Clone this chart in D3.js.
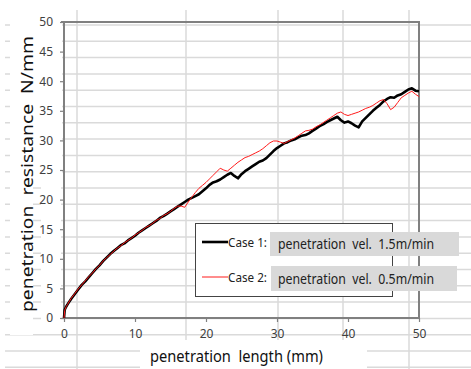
<!DOCTYPE html>
<html><head><meta charset="utf-8">
<script src="https://cdn.jsdelivr.net/npm/d3@7"></script>
<style>body{margin:0;background:#fff}svg{display:block}text{white-space:pre}</style>
</head><body><svg id="c" width="471" height="369"></svg>
<script>
const lengths=[0,0.1,0.3,0.5,1,1.5,2,2.5,3,3.5,4,4.5,5,5.5,6,6.5,7,7.5,8,8.5,9,9.5,10,10.5,11,11.5,12,12.5,13,13.5,14,14.5,15,15.5,16,16.5,17,17.5,18,18.5,19,19.5,20,20.5,21,21.5,22,22.5,23,23.5,24,24.5,25,25.5,26,26.5,27,27.5,28,28.5,29,29.5,30,30.5,31,31.5,32,32.5,33,33.5,34,34.5,35,35.5,36,36.5,37,37.5,38,38.5,39,39.5,40,40.5,41,41.5,42,42.5,43,43.5,44,44.5,45,45.5,46,46.5,47,47.5,48,48.5,49,49.5,50];
const case1=[0,1.4,1.9,2.3,3.2,4.0,4.8,5.6,6.2,6.9,7.6,8.3,8.9,9.6,10.2,10.8,11.3,11.8,12.3,12.6,13.1,13.5,13.9,14.4,14.8,15.2,15.6,16.0,16.4,16.9,17.2,17.6,18.0,18.4,18.8,19.2,19.6,20.0,20.3,20.6,20.9,21.4,21.9,22.5,22.9,23.1,23.4,23.8,24.2,24.5,24.0,23.6,24.3,24.8,25.2,25.6,26.0,26.4,26.6,27.0,27.6,28.2,28.7,29.1,29.5,29.7,30.0,30.2,30.5,30.8,30.9,31.2,31.6,32.0,32.4,32.7,33.1,33.4,33.7,34.0,33.4,33.0,33.2,32.9,32.5,32.2,33.2,33.8,34.4,35.0,35.5,36.0,36.6,37.0,37.3,37.2,37.6,37.8,38.2,38.6,38.8,38.4,38.3];
const case2=[0,1.3,1.9,2.3,3.3,4.1,4.9,5.6,6.3,7.0,7.6,8.3,8.9,9.6,10.2,10.7,11.3,11.8,12.2,12.7,13.1,13.5,14.0,14.4,14.8,15.3,15.6,16.0,16.5,16.8,17.3,17.6,18.0,18.5,18.9,18.9,18.7,19.6,20.4,21.2,21.9,22.4,22.9,23.5,24.1,24.7,25.3,25.0,24.8,25.3,25.8,26.3,26.7,27.1,27.3,27.6,27.9,28.2,28.6,29.1,29.6,29.9,29.9,29.7,29.5,29.8,30.1,30.4,30.8,31.2,31.6,31.7,31.9,32.3,32.6,33.0,33.4,33.8,34.2,34.6,34.8,34.4,34.2,34.4,34.6,34.8,35.1,35.4,35.6,35.9,36.3,36.7,36.9,36.2,35.2,35.6,36.4,37.2,37.6,38.0,38.3,37.8,37.4];
const xTicks=[0,10,20,30,40,50];
const yTicks=[0,5,10,15,20,25,30,35,40,45,50];
const seriesNames=["Case 1:","Case 2:"];
const seriesDesc=["penetration  vel.  1.5m/min","penetration  vel.  0.5m/min"];
const xTitle="penetration  length (mm)";
const yTitle="penetration  resistance  N/mm";

const svg=d3.select("#c");
const W=471,H=369;
const L=64,R=419,T=22,B=318;
const x=d3.scaleLinear().domain([0,50]).range([L,R]);
const y=d3.scaleLinear().domain([0,50]).range([B,T]);
const FONT="'Noto Sans', 'DejaVu Sans', sans-serif";

// spreadsheet background grid
const grid=svg.append("g");
for(let gy=25;gy<H;gy+=16.3){
  grid.append("line").attr("x1",5).attr("x2",W).attr("y1",gy).attr("y2",gy)
    .attr("stroke","#dadada").attr("stroke-width",1.5);
}
[77,186,278,343,409].forEach(gx=>{
  grid.append("line").attr("x1",gx).attr("x2",gx).attr("y1",10).attr("y2",H)
    .attr("stroke","#dadada").attr("stroke-width",1.5);
});
// white areas of the chart object
svg.append("rect").attr("x",10).attr("y",12).attr("width",52).attr("height",168).attr("fill","#fff");
svg.append("rect").attr("x",10).attr("y",12).attr("width",23).attr("height",323).attr("fill","#fff");
svg.append("rect").attr("x",41).attr("y",12).attr("width",20).attr("height",314).attr("fill","#fff");
svg.append("rect").attr("x",140).attr("y",340).attr("width",227).attr("height",29).attr("fill","#fff");

// plot frame (top & right)
svg.append("path").attr("d",`M${L-3},${T}H${R}V${B}`).attr("fill","none")
  .attr("stroke","#808080").attr("stroke-width",2);

// axes
const yAxis=svg.append("g").attr("transform",`translate(${L},0)`)
  .call(d3.axisLeft(y).tickValues(yTicks).tickSize(4).tickPadding(7).tickFormat(d3.format("d")));
const xAxis=svg.append("g").attr("transform",`translate(0,${B})`)
  .call(d3.axisBottom(x).tickValues(xTicks).tickSize(4).tickPadding(7).tickFormat(d3.format("d")));
[yAxis,xAxis].forEach(a=>{
  a.select(".domain").attr("stroke","#808080").attr("stroke-width",2);
  a.selectAll(".tick line").attr("stroke","#808080").attr("stroke-width",1.2);
  a.selectAll(".tick text").attr("fill","#404040").style("font-family",FONT).style("font-size","12px");
});
yAxis.select(".domain").attr("d",`M0,${T}V${B}`);
xAxis.select(".domain").attr("d",`M${L},0H${R}`);

// series
const line=d3.line().x((d,i)=>x(lengths[i])).y(d=>y(d));
svg.append("path").datum(case1).attr("d",line).attr("fill","none")
  .attr("stroke","#000").attr("stroke-width",2.6).attr("stroke-linejoin","round");
svg.append("path").datum(case2).attr("d",line).attr("fill","none")
  .attr("stroke","#ff1a1a").attr("stroke-width",1).attr("stroke-linejoin","round");

// titles
svg.append("text").attr("x",150).attr("y",362).attr("textLength",173).attr("lengthAdjust","spacingAndGlyphs")
  .style("font-family",FONT).style("font-size","16px").attr("fill","#111").text(xTitle);
svg.append("text").attr("transform","translate(33,174) rotate(-90)").attr("text-anchor","middle")
  .attr("textLength",276).attr("lengthAdjust","spacingAndGlyphs")
  .style("font-family",FONT).style("font-size","16px").attr("fill","#111").text(yTitle);

// legend
const lg=svg.append("g");
lg.append("rect").attr("x",195.5).attr("y",223.5).attr("width",197).attr("height",73)
  .attr("fill","#fff").attr("stroke","#444").attr("stroke-width",1);
const rows=[{yy:242,box:[270,232,189,24],col:"#000",w:2.6},{yy:277,box:[271,266,186,25],col:"#ff1a1a",w:1}];
rows.forEach((r,i)=>{
  lg.append("line").attr("x1",202).attr("x2",228).attr("y1",r.yy).attr("y2",r.yy)
    .attr("stroke",r.col).attr("stroke-width",r.w);
  lg.append("text").attr("x",228).attr("y",r.yy+4.5).attr("textLength",39).attr("lengthAdjust","spacingAndGlyphs")
    .style("font-family",FONT).style("font-size","12.5px").attr("fill","#222").text(seriesNames[i]);
  lg.append("rect").attr("x",r.box[0]).attr("y",r.box[1]).attr("width",r.box[2]).attr("height",r.box[3]).attr("fill","#d9d9d9");
  lg.append("text").attr("x",278).attr("y",r.box[1]+r.box[3]/2+5).attr("textLength",156).attr("lengthAdjust","spacingAndGlyphs")
    .style("font-family",FONT).style("font-size","13.5px").attr("fill","#222").text(seriesDesc[i]);
});
</script></body></html>
